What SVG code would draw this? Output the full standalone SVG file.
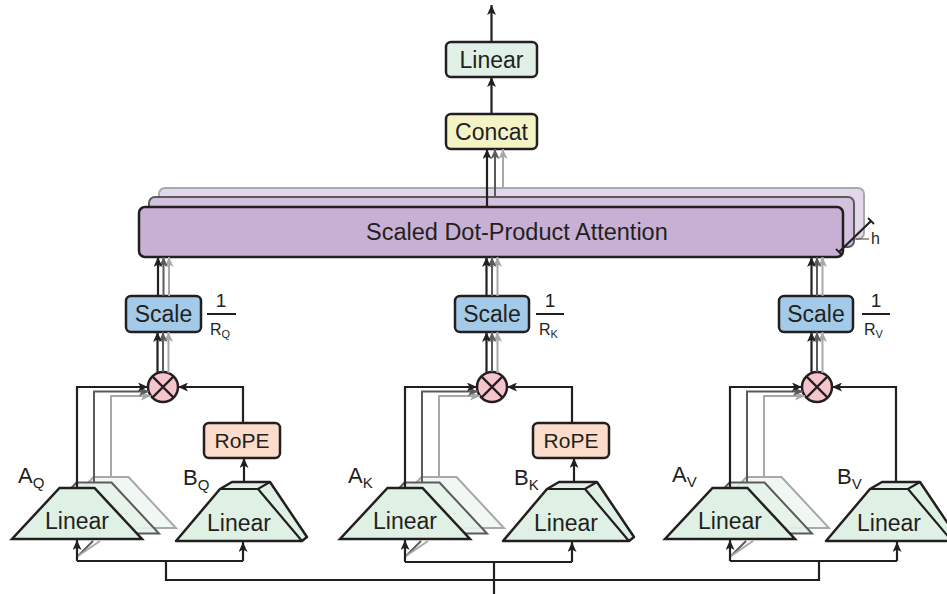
<svg xmlns="http://www.w3.org/2000/svg" width="947" height="594" viewBox="0 0 947 594">
<defs>
<style>
text{font-family:"Liberation Sans",Arial,sans-serif;fill:#231f20}
.box{stroke:#231f20;stroke-width:2.5}
.lk{stroke:#231f20;stroke-width:2.2;fill:none}
.ld{stroke:#5b5b5b;stroke-width:2;fill:none}
.ll{stroke:#a8a8a8;stroke-width:2;fill:none}
.t23{font-size:23px}
.lbl{font-size:22px}
.sub{font-size:15px}
.frac1{font-size:19px}
.fracR{font-size:16px}
.fracS{font-size:11px}
</style>
<marker id="ak" markerWidth="10" markerHeight="9" refX="10" refY="4.5" orient="auto" markerUnits="userSpaceOnUse"><path d="M0,0 L10,4.5 L0,9 L2.5,4.5 z" fill="#231f20"/></marker>
<marker id="ad" markerWidth="10" markerHeight="9" refX="10" refY="4.5" orient="auto" markerUnits="userSpaceOnUse"><path d="M0,0 L10,4.5 L0,9 L2.5,4.5 z" fill="#5b5b5b"/></marker>
<marker id="al" markerWidth="10" markerHeight="9" refX="10" refY="4.5" orient="auto" markerUnits="userSpaceOnUse"><path d="M0,0 L10,4.5 L0,9 L2.5,4.5 z" fill="#a8a8a8"/></marker>
<g id="trapA">
<polygon points="-17.5,488 17.5,488 65,539 -65,539"/>
</g>
</defs>

<!-- Attention stack -->
<g id="attention">
<rect x="159" y="188" width="705" height="51" rx="6" fill="#e2d8ea" stroke="#a8a8a8" stroke-width="2"/>
<rect x="149" y="197" width="705" height="50" rx="6" fill="#d3c1de" stroke="#5b5b5b" stroke-width="2"/>
<rect x="139" y="207" width="704" height="50" rx="6" fill="#c8b0d5" class="box"/>
<text x="366" y="240" font-size="23.5">Scaled Dot-Product Attention</text>
<path d="M839,252 L871,221" class="lk" stroke-width="1.8"/>
<path d="M836,249 L842,255 M868,218 L874,224" stroke="#231f20" stroke-width="1.8"/>
<path d="M856,239 L869,239" stroke="#5b5b5b" stroke-width="1.2"/>
<text x="871" y="244" font-size="16">h</text>
</g>

<g id="concat">
<rect x="446" y="114" width="91" height="35" rx="5" fill="#f3f3c6" class="box"/>
<text x="491.5" y="140" text-anchor="middle" class="t23">Concat</text>
</g>
<g id="linear-out">
<rect x="446" y="42" width="91" height="35" rx="5" fill="#e0f0e6" class="box"/>
<text x="491.5" y="68" text-anchor="middle" class="t23">Linear</text>
</g>

<!-- Scale nodes -->
<g id="scale-q">
<rect x="126" y="296" width="75" height="36" rx="5" fill="#a3cbe9" class="box"/>
<text x="163.5" y="322" text-anchor="middle" class="t23">Scale</text>
<text x="221" y="307" text-anchor="middle" class="frac1">1</text>
<path d="M207,314 L236,314" stroke="#231f20" stroke-width="2"/>
<text x="210" y="335" class="fracR">R<tspan class="fracS" dy="3">Q</tspan></text>
</g>
<g id="scale-k">
<rect x="455" y="296" width="74" height="36" rx="5" fill="#a3cbe9" class="box"/>
<text x="492" y="322" text-anchor="middle" class="t23">Scale</text>
<text x="550" y="307" text-anchor="middle" class="frac1">1</text>
<path d="M536,314 L564,314" stroke="#231f20" stroke-width="2"/>
<text x="539" y="335" class="fracR">R<tspan class="fracS" dy="3">K</tspan></text>
</g>
<g id="scale-v">
<rect x="779" y="296" width="74" height="36" rx="5" fill="#a3cbe9" class="box"/>
<text x="816" y="322" text-anchor="middle" class="t23">Scale</text>
<text x="876" y="307" text-anchor="middle" class="frac1">1</text>
<path d="M862,314 L890,314" stroke="#231f20" stroke-width="2"/>
<text x="864" y="335" class="fracR">R<tspan class="fracS" dy="3">V</tspan></text>
</g>

<!-- Multiply nodes -->
<g id="mul-q">
<circle cx="163" cy="387" r="15" fill="#f6c4cc" class="box"/>
<path d="M152.4,376.4 L173.6,397.6 M173.6,376.4 L152.4,397.6" class="lk"/>
</g>
<g id="mul-k">
<circle cx="492" cy="387" r="15" fill="#f6c4cc" class="box"/>
<path d="M481.4,376.4 L502.6,397.6 M502.6,376.4 L481.4,397.6" class="lk"/>
</g>
<g id="mul-v">
<circle cx="817" cy="387" r="15" fill="#f6c4cc" class="box"/>
<path d="M806.4,376.4 L827.6,397.6 M827.6,376.4 L806.4,397.6" class="lk"/>
</g>

<!-- RoPE nodes -->
<g id="rope-q">
<rect x="204" y="423" width="76" height="35" rx="5" fill="#fcdccb" class="box"/>
<text x="242" y="448" text-anchor="middle" font-size="21">RoPE</text>
</g>
<g id="rope-k">
<rect x="533" y="423" width="76" height="35" rx="5" fill="#fcdccb" class="box"/>
<text x="571" y="448" text-anchor="middle" font-size="21">RoPE</text>
</g>

<!-- A linear stacks -->
<g id="linear-aq">
<use href="#trapA" x="111" y="-11" fill="#eef6f1" fill-opacity="0.8" stroke="#a8a8a8" stroke-width="2"/>
<use href="#trapA" x="94" y="-5.5" fill="#e4f2e8" fill-opacity="0.9" stroke="#5b5b5b" stroke-width="2"/>
<use href="#trapA" x="77" y="0" fill="#dff0e4" stroke="#231f20" stroke-width="2.5"/>
<text x="77" y="529" text-anchor="middle" class="t23">Linear</text>
<text x="18" y="483" class="lbl">A<tspan class="sub" dy="5">Q</tspan></text>
</g>
<g id="linear-ak">
<use href="#trapA" x="439" y="-11" fill="#eef6f1" fill-opacity="0.8" stroke="#a8a8a8" stroke-width="2"/>
<use href="#trapA" x="422" y="-5.5" fill="#e4f2e8" fill-opacity="0.9" stroke="#5b5b5b" stroke-width="2"/>
<use href="#trapA" x="405" y="0" fill="#dff0e4" stroke="#231f20" stroke-width="2.5"/>
<text x="405" y="529" text-anchor="middle" class="t23">Linear</text>
<text x="348" y="483" class="lbl">A<tspan class="sub" dy="5">K</tspan></text>
</g>
<g id="linear-av">
<use href="#trapA" x="764" y="-11" fill="#eef6f1" fill-opacity="0.8" stroke="#a8a8a8" stroke-width="2"/>
<use href="#trapA" x="747" y="-5.5" fill="#e4f2e8" fill-opacity="0.9" stroke="#5b5b5b" stroke-width="2"/>
<use href="#trapA" x="730" y="0" fill="#dff0e4" stroke="#231f20" stroke-width="2.5"/>
<text x="730" y="529" text-anchor="middle" class="t23">Linear</text>
<text x="672" y="482" class="lbl">A<tspan class="sub" dy="5">V</tspan></text>
</g>

<!-- B linear (extruded) -->
<g id="linear-bq">
<polygon points="176,541 220,489 232,482 270,482 307,537 302,541" fill="#dff0e4" stroke="#231f20" stroke-width="2.5" stroke-linejoin="round"/>
<path d="M220,489 L258,489 L270,482 M258,489 L302,541" class="lk" stroke-width="2.5"/>
<text x="239" y="531" text-anchor="middle" class="t23">Linear</text>
<text x="183" y="485" class="lbl">B<tspan class="sub" dy="5">Q</tspan></text>
</g>
<g id="linear-bk">
<polygon points="503,541 547,489 559,482 597,482 634,537 629,541" fill="#dff0e4" stroke="#231f20" stroke-width="2.5" stroke-linejoin="round"/>
<path d="M547,489 L585,489 L597,482 M585,489 L629,541" class="lk" stroke-width="2.5"/>
<text x="566" y="531" text-anchor="middle" class="t23">Linear</text>
<text x="514" y="485" class="lbl">B<tspan class="sub" dy="5">K</tspan></text>
</g>
<g id="linear-bv">
<polygon points="826,541 870,489 882,482 920,482 957,537 952,541" fill="#dff0e4" stroke="#231f20" stroke-width="2.5" stroke-linejoin="round"/>
<path d="M870,489 L908,489 L920,482 M908,489 L952,541" class="lk" stroke-width="2.5"/>
<text x="889" y="531" text-anchor="middle" class="t23">Linear</text>
<text x="837" y="484" class="lbl">B<tspan class="sub" dy="5">V</tspan></text>
</g>

<!-- Connectors -->
<g id="connectors">
<!-- output -->
<path d="M491.5,42 L491.5,5" class="lk" marker-end="url(#ak)"/>
<path d="M491.5,114 L491.5,77" class="lk" marker-end="url(#ak)"/>
<path d="M487,207 L487,149" class="lk" marker-end="url(#ak)"/>
<path d="M495,197 L495,149" class="ld" marker-end="url(#ad)"/>
<path d="M503,188 L503,149" class="ll" marker-end="url(#al)"/>

<!-- Q branch -->
<path d="M169,296 L169,257" class="ll" marker-end="url(#al)"/>
<path d="M163.5,296 L163.5,257" class="ld" marker-end="url(#ad)"/>
<path d="M158,296 L158,257" class="lk" marker-end="url(#ak)"/>
<path d="M168.5,373 L168.5,332" class="ll" marker-end="url(#al)"/>
<path d="M163,372 L163,332" class="ld" marker-end="url(#ad)"/>
<path d="M157.5,373 L157.5,332" class="lk" marker-end="url(#ak)"/>
<path d="M111,477 L111,396 L151,396" class="ll" marker-end="url(#al)"/>
<path d="M94,482.5 L94,391.5 L149,391.5" class="ld" marker-end="url(#ad)"/>
<path d="M77,488 L77,387 L148,387" class="lk" marker-end="url(#ak)"/>
<path d="M243,423 L243,387 L178,387" class="lk" marker-end="url(#ak)"/>
<path d="M244,482 L244,458" class="lk" marker-end="url(#ak)"/>

<!-- K branch -->
<path d="M497.5,296 L497.5,257" class="ll" marker-end="url(#al)"/>
<path d="M492,296 L492,257" class="ld" marker-end="url(#ad)"/>
<path d="M486.5,296 L486.5,257" class="lk" marker-end="url(#ak)"/>
<path d="M497.5,373 L497.5,332" class="ll" marker-end="url(#al)"/>
<path d="M492,372 L492,332" class="ld" marker-end="url(#ad)"/>
<path d="M486.5,373 L486.5,332" class="lk" marker-end="url(#ak)"/>
<path d="M439,477 L439,396 L480,396" class="ll" marker-end="url(#al)"/>
<path d="M422,482.5 L422,391.5 L478,391.5" class="ld" marker-end="url(#ad)"/>
<path d="M405,488 L405,387 L477,387" class="lk" marker-end="url(#ak)"/>
<path d="M572,423 L572,387 L507,387" class="lk" marker-end="url(#ak)"/>
<path d="M574,482 L574,458" class="lk" marker-end="url(#ak)"/>

<!-- V branch -->
<path d="M822.5,296 L822.5,257" class="ll" marker-end="url(#al)"/>
<path d="M817,296 L817,257" class="ld" marker-end="url(#ad)"/>
<path d="M811.5,296 L811.5,257" class="lk" marker-end="url(#ak)"/>
<path d="M822.5,373 L822.5,332" class="ll" marker-end="url(#al)"/>
<path d="M817,372 L817,332" class="ld" marker-end="url(#ad)"/>
<path d="M811.5,373 L811.5,332" class="lk" marker-end="url(#ak)"/>
<path d="M764,477 L764,396 L805,396" class="ll" marker-end="url(#al)"/>
<path d="M747,482.5 L747,391.5 L803,391.5" class="ld" marker-end="url(#ad)"/>
<path d="M730,488 L730,387 L802,387" class="lk" marker-end="url(#ak)"/>
<path d="M896,482 L896,387 L832,387" class="lk" marker-end="url(#ak)"/>

<!-- ghost input diagonals -->
<path d="M78,556 L93,541" class="ld" stroke-width="1.5"/>
<path d="M78,556 L100,541" class="ll" stroke-width="1.5"/>
<path d="M406,556 L421,541" class="ld" stroke-width="1.5"/>
<path d="M406,556 L428,541" class="ll" stroke-width="1.5"/>
<path d="M731,556 L746,541" class="ld" stroke-width="1.5"/>
<path d="M731,556 L753,541" class="ll" stroke-width="1.5"/>

<!-- input distribution -->
<path d="M494,594 L494,562" class="lk"/>
<path d="M166,561 L166,580 L819,580 L819,561" class="lk"/>
<path d="M77,561 L243,561" class="lk"/>
<path d="M77,561 L77,540" class="lk" marker-end="url(#ak)"/>
<path d="M243,561 L243,542" class="lk" marker-end="url(#ak)"/>
<path d="M405,562 L572,562" class="lk"/>
<path d="M405,562 L405,540" class="lk" marker-end="url(#ak)"/>
<path d="M572,562 L572,542" class="lk" marker-end="url(#ak)"/>
<path d="M730,561 L897,561" class="lk"/>
<path d="M730,561 L730,540" class="lk" marker-end="url(#ak)"/>
<path d="M897,561 L897,542" class="lk" marker-end="url(#ak)"/>
</g>
</svg>
